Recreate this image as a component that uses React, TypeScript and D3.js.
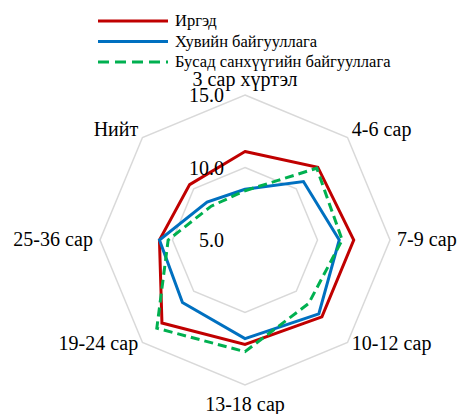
import React from 'react';
import * as d3 from 'd3';

// chart data
const categories = ['3 сар хүртэл', '4-6 сар', '7-9 сар', '10-12 сар', '13-18 сар', '19-24 сар', '25-36 сар', 'Нийт'];
const irged = [11.1, 12.1, 12.5, 12.5, 12.2, 13.1, 10.9, 10.4];
const khuviin = [8.5, 10.7, 11.5, 12.2, 11.8, 11.1, 10.9, 8.7];
const busad = [8.4, 12.0, 11.7, 11.2, 12.7, 13.6, 10.3, 8.3];
const ticks = [5, 10, 15];

const seriesNames = ['Иргэд', 'Хувийн байгууллага', 'Бусад санхүүгийн байгууллага'];

const width = 461;
const height = 414;
const cx = 245;
const cy = 240;
const R = 145;
const font = "Tinos, 'Nimbus Roman', 'Nimbus Roman No9 L', FreeSerif, 'Noto Serif', 'DejaVu Serif', 'Liberation Serif', serif";

const App = () => {
  const r = d3.scaleLinear().domain([5, 15]).range([0, R]);
  const angle = (i: number) => (i * 2 * Math.PI) / categories.length;

  const radial = d3
    .lineRadial<number>()
    .angle((_, i) => angle(i))
    .radius((d) => r(d))
    .curve(d3.curveLinearClosed);

  const series = [
    { name: seriesNames[0], values: irged, color: '#C00000', dash: undefined },
    { name: seriesNames[1], values: khuviin, color: '#0070C0', dash: undefined },
    { name: seriesNames[2], values: busad, color: '#00B050', dash: '9,5' },
  ];

  // grid octagons (10 and 15)
  const grid = ticks.filter((t) => t > 5).map((t) => radial(categories.map(() => t)));

  const labelPos = (i: number) => {
    const a = angle(i);
    const s = Math.sin(a);
    const c = Math.cos(a);
    let off = 6;
    if (Math.abs(s) < 0.01) off = c > 0 ? 15 : 20;
    else if (Math.abs(c) < 0.01) off = 7;
    const x = cx + (R + off) * s;
    const y = cy - (R + off) * c - (Math.abs(c) > 0.01 && Math.abs(s) > 0.01 ? 3 : 0);
    const anchor = s > 0.01 ? 'start' : s < -0.01 ? 'end' : 'middle';
    return { x, y, anchor };
  };

  return (
    <svg width={width} height={height} style={{ position: 'absolute', left: 0, top: 0, background: '#fff' }}>
      <g transform={`translate(${cx},${cy})`}>
        {grid.map((d, i) => (
          <path key={i} d={d || ''} fill="none" stroke="#D9D9D9" strokeWidth={1.5} />
        ))}
        {series.map((s) => (
          <path
            key={s.name}
            d={radial(s.values) || ''}
            fill="none"
            stroke={s.color}
            strokeWidth={3}
            strokeDasharray={s.dash}
            strokeLinejoin="miter"
          />
        ))}
      </g>

      {ticks.map((t) => (
        <text
          key={t}
          x={cx - 21}
          y={cy - r(t) + 7}
          textAnchor="end"
          fontFamily={font}
          fontSize={20}
          fill="#000"
        >
          {t.toFixed(1)}
        </text>
      ))}

      {categories.map((c, i) => {
        const p = labelPos(i);
        return (
          <text
            key={c}
            x={p.x}
            y={p.y + 6}
            textAnchor={p.anchor}
            fontFamily={font}
            fontSize={20}
            fill="#000"
          >
            {c}
          </text>
        );
      })}

      {series.map((s, i) => (
        <g key={s.name} transform={`translate(98,${21 + i * 20.5})`}>
          <line x1={0} x2={70} y1={0} y2={0} stroke={s.color} strokeWidth={3} strokeDasharray={s.dash ? '11,6' : undefined} />
          <text x={77} y={5} fontFamily={font} fontSize={16.5} fill="#000">
            {s.name}
          </text>
        </g>
      ))}
    </svg>
  );
};

export default App;
